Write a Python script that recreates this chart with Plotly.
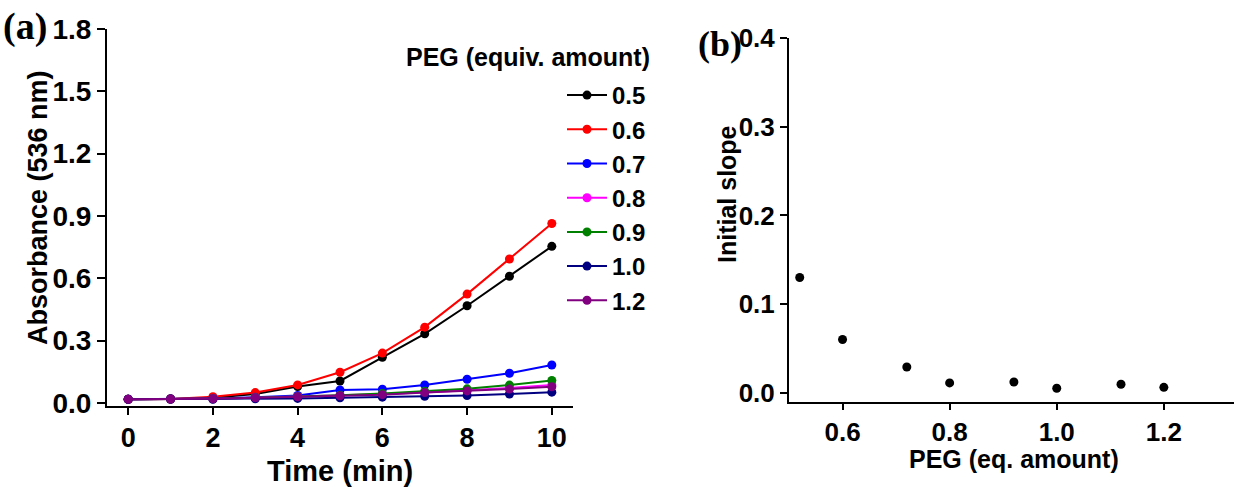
import plotly.graph_objects as go

# ---------------- data ----------------
time_min = [0, 1, 2, 3, 4, 5, 6, 7, 8, 9, 10]
peg_labels = ["0.5", "0.6", "0.7", "0.8", "0.9", "1.0", "1.2"]
peg_colors = ["#000000", "#FF0000", "#0000FF", "#FF00FF", "#008000", "#000080", "#800080"]

abs_05 = [0.018, 0.019, 0.025, 0.043, 0.079, 0.106, 0.220, 0.333, 0.468, 0.610, 0.754]
abs_06 = [0.018, 0.019, 0.030, 0.050, 0.087, 0.148, 0.240, 0.365, 0.524, 0.693, 0.864]
abs_07 = [0.018, 0.019, 0.022, 0.028, 0.036, 0.063, 0.066, 0.087, 0.114, 0.143, 0.183]
abs_08 = [0.018, 0.019, 0.020, 0.025, 0.030, 0.036, 0.043, 0.051, 0.061, 0.072, 0.086]
abs_09 = [0.018, 0.019, 0.020, 0.025, 0.030, 0.037, 0.046, 0.056, 0.068, 0.086, 0.108]
abs_10 = [0.018, 0.019, 0.018, 0.020, 0.022, 0.025, 0.028, 0.032, 0.036, 0.043, 0.052]
abs_12 = [0.018, 0.019, 0.020, 0.025, 0.030, 0.035, 0.040, 0.050, 0.058, 0.067, 0.078]
abs_series = [abs_05, abs_06, abs_07, abs_08, abs_09, abs_10, abs_12]

peg_amount = [0.52, 0.60, 0.72, 0.80, 0.92, 1.00, 1.12, 1.20]
initial_slope = [0.130, 0.060, 0.029, 0.011, 0.012, 0.005, 0.0095, 0.006]

a_xticks = [0, 2, 4, 6, 8, 10]
a_yticks = [0.0, 0.3, 0.6, 0.9, 1.2, 1.5, 1.8]
b_xticks = [0.6, 0.8, 1.0, 1.2]
b_yticks = [0.0, 0.1, 0.2, 0.3, 0.4]

# ---------------- figure ----------------
W, H = 1234, 487
FONT = "Liberation Sans, Arial, sans-serif"
SERIF = "Liberation Serif, Times New Roman, serif"
fig = go.Figure()

for lab, col, ys in zip(peg_labels, peg_colors, abs_series):
    fig.add_trace(go.Scatter(
        x=time_min, y=ys, name=lab, mode="lines+markers",
        line=dict(color=col, width=2), marker=dict(color=col, size=9),
        xaxis="x", yaxis="y", legendgroup=lab,
    ))

fig.add_trace(go.Scatter(
    x=peg_amount, y=initial_slope, mode="markers", showlegend=False,
    marker=dict(color="black", size=9), xaxis="x2", yaxis="y2",
))

def px_x(p):
    return p / W

def px_y(p):
    return 1 - p / H

axis_common = dict(
    showline=True, linecolor="black", linewidth=2, mirror=False,
    ticks="outside", tickcolor="black", tickwidth=2,
    showgrid=False, zeroline=False, automargin=False,
)

def label(text, x, y, size, angle=0, family=FONT, anchor="center"):
    return dict(text=text, x=px_x(x), y=px_y(y), xref="paper", yref="paper",
                xanchor=anchor, yanchor="middle", showarrow=False, textangle=angle,
                font=dict(size=size, weight="bold", family=family))

fig.update_layout(
    width=W, height=H,
    margin=dict(l=0, r=0, t=0, b=0, autoexpand=False),
    paper_bgcolor="white", plot_bgcolor="white",
    font=dict(family=FONT, color="black"),
    xaxis=dict(
        domain=[px_x(107), px_x(573)], range=[-0.5, 10.5], anchor="y",
        tickvals=a_xticks, ticklen=7,
        tickfont=dict(size=27, weight="bold"),
        **axis_common,
    ),
    yaxis=dict(
        domain=[px_y(406), px_y(29)], range=[-0.0145, 1.8], anchor="x",
        tickvals=a_yticks, tickformat=".1f", ticklen=8,
        tickfont=dict(size=28, weight="bold"),
        **axis_common,
    ),
    xaxis2=dict(
        domain=[px_x(789), 1.0], range=[0.5, 1.331], anchor="y2",
        tickvals=b_xticks, tickformat=".1f", ticklen=6,
        tickfont=dict(size=26, weight="bold"),
        **axis_common,
    ),
    yaxis2=dict(
        domain=[px_y(401.7), px_y(38.3)], range=[-0.0102, 0.4], anchor="x2",
        tickvals=b_yticks, tickformat=".1f", ticklen=7,
        tickfont=dict(size=26, weight="bold"),
        **axis_common,
    ),
    legend=dict(
        x=px_x(562), y=px_y(73), xanchor="left", yanchor="top",
        bgcolor="rgba(0,0,0,0)", borderwidth=0,
        font=dict(size=24, weight="bold", family=FONT),
        tracegroupgap=0, itemwidth=40,
    ),
    annotations=[
        label("PEG (equiv. amount)", 652, 57, 25, anchor="right"),
        label("(a)", 1, 27, 38, family=SERIF, anchor="left"),
        label("(b)", 696, 44, 36, family=SERIF, anchor="left"),
        label("Time (min)", 340, 471, 29),
        label("Absorbance (536 nm)", 38, 208, 27, angle=-90),
        label("PEG (eq. amount)", 1014, 459, 25),
        label("Initial slope", 727, 194, 25, angle=-90),
    ],
)

fig.write_html("out.html")
